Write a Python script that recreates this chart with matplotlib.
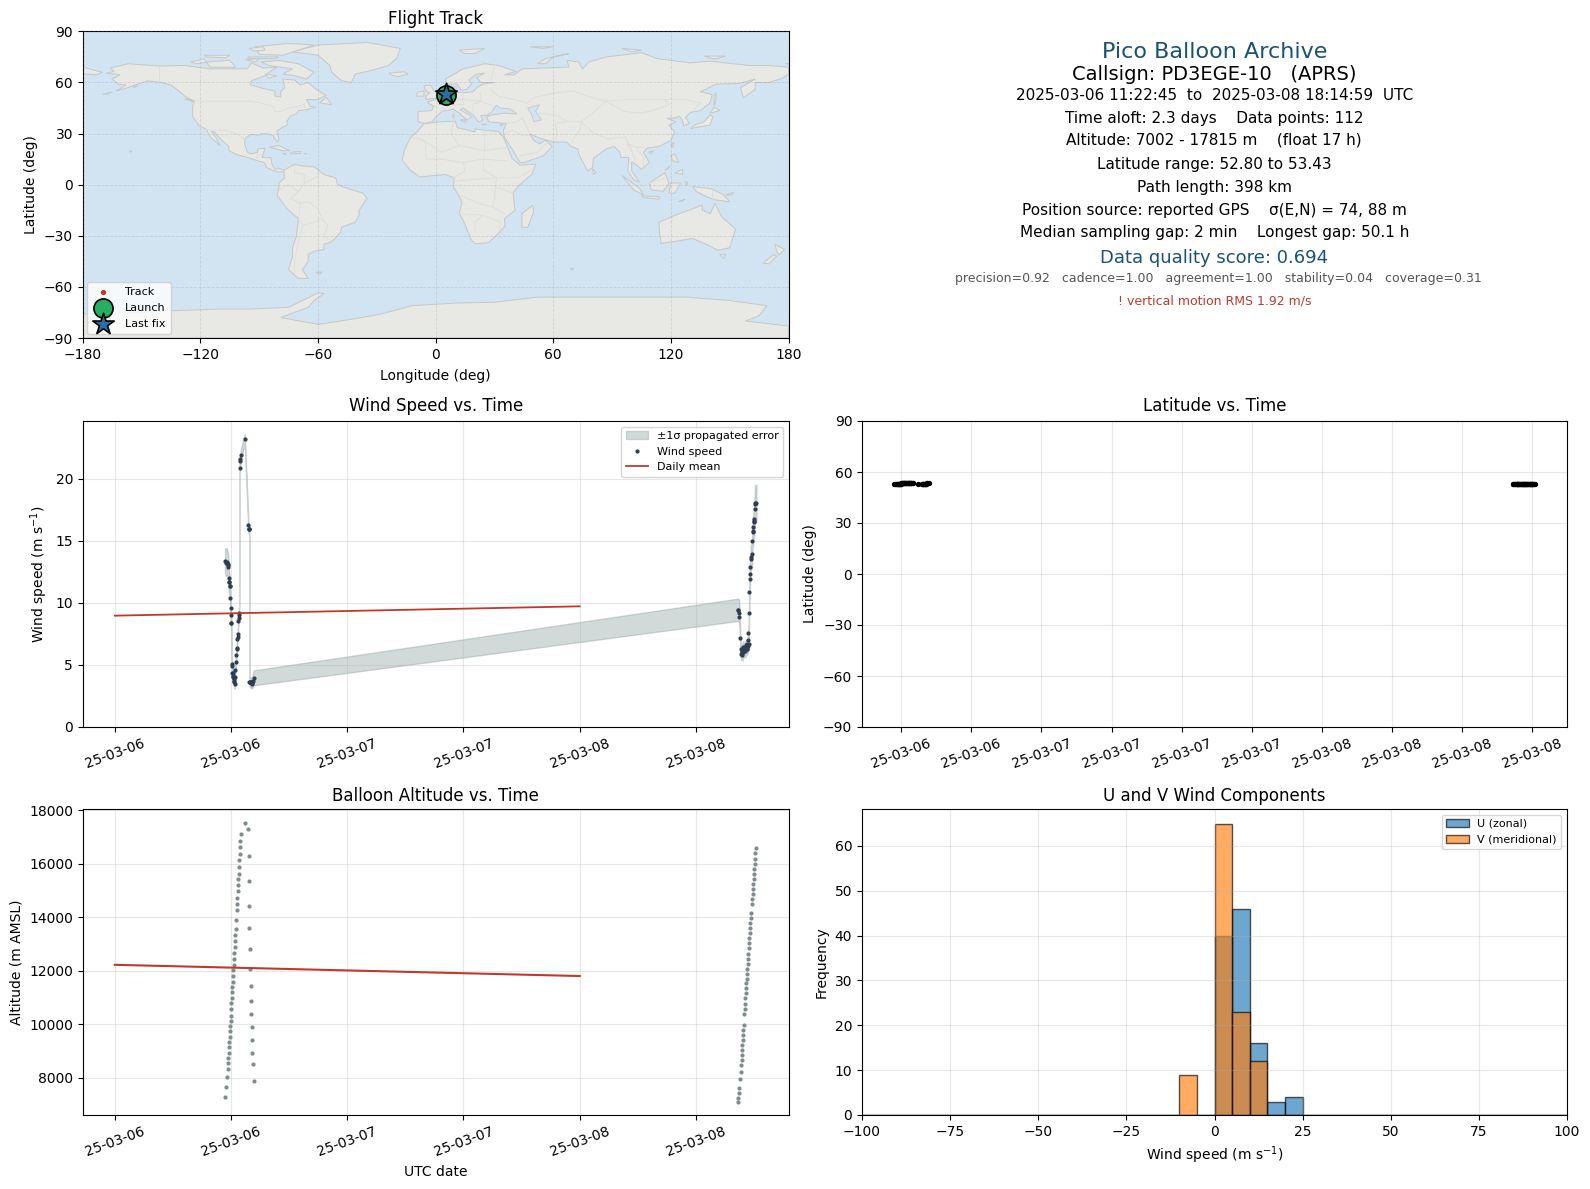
import matplotlib
matplotlib.use('Agg')
import matplotlib.pyplot as plt
import matplotlib.dates as mdates
from matplotlib.patches import Polygon
import numpy as np
import pandas as pd

# hours after 2025-03-06 12:00
hours = [-0.62, -0.55, -0.45, -0.36, -0.33, -0.30, -0.26, -0.23, -0.20, -0.16, -0.13, -0.10, -0.06, -0.03, 0.00,
         0.04, 0.07, 0.10, 0.14, 0.17, 0.20, 0.24, 0.27, 0.30, 0.34, 0.37, 0.40, 0.44, 0.47, 0.54, 0.57, 0.60,
         0.64, 0.67, 0.70, 0.74, 0.77, 0.80, 0.84, 0.87, 0.94, 0.97, 1.00, 1.41,
         1.78, 1.80, 1.83, 1.88, 1.90, 1.93, 1.99, 2.01, 2.04, 2.10, 2.12, 2.15, 2.21, 2.24, 2.33,
         52.34, 52.39, 52.47, 52.50, 52.58, 52.61, 52.68, 52.71, 52.74, 52.78, 52.81, 52.84, 52.88, 52.91, 52.94,
         52.99, 53.02, 53.09, 53.12, 53.15, 53.19, 53.22, 53.25, 53.29, 53.32, 53.35, 53.39, 53.42, 53.45, 53.49,
         53.52, 53.55, 53.59, 53.62, 53.65, 53.72, 53.80, 53.83, 53.86, 53.90, 53.93, 53.96, 54.00, 54.03, 54.09,
         54.12, 54.15, 54.25]

wind = [13.40, 13.24, 13.32, 13.16, 13.05, 12.91, 12.03, 11.71, 11.71, 11.36, 11.36, 10.37, 9.57, 9.01, 8.37,
        8.37, 5.08, 4.95, 4.36, 4.14, 4.36, 4.01, 3.88, 3.74, 3.61, 3.48, 4.01, 4.60, 5.21, 5.80, 6.28, 6.36,
        7.09, 7.27, 7.49, 8.56, 8.82, 9.01, 9.22, 20.86, 21.39, 21.60, 21.93, 23.21,
        16.28, 15.99, 15.99, 15.95, 3.61, 3.61, 3.61, 3.61, 3.53, 3.61, 3.48, 3.53, 3.61, 3.69, 3.96,
        9.44, 9.44, 9.22, 8.90, 7.18, 6.30, 5.90, 5.95, 6.03, 6.17, 5.84, 6.30, 6.43, 6.03, 6.22,
        6.30, 6.17, 6.43, 6.11, 6.49, 6.43, 6.57, 6.30, 6.30, 6.65, 6.49, 7.02, 7.59, 6.70, 9.20,
        10.88, 11.93, 12.33, 12.87, 13.54, 13.73, 13.94, 14.99, 15.68, 15.76, 16.09, 16.49, 16.62, 16.76, 17.56,
        18.02, 17.96, 18.02]

wind_err = [1.0, 1.1, 1.1, 1.0, 1.0, 1.0, 0.9, 0.9, 0.9, 0.8, 0.8, 0.8, 0.7, 0.7, 0.6,
            0.6, 0.5, 0.5, 0.5, 0.5, 0.5, 0.5, 0.4, 0.4, 0.4, 0.4, 0.4, 0.5, 0.5, 0.5, 0.5, 0.5,
            0.5, 0.5, 0.5, 0.5, 0.5, 0.5, 0.5, 0.5, 0.4, 0.4, 0.4, 0.4,
            0.4, 0.4, 0.4, 0.4, 0.4, 0.4, 0.4, 0.4, 0.4, 0.4, 0.4, 0.4, 0.4, 0.5, 0.6,
            0.9, 0.9, 0.9, 0.9, 0.6, 0.5, 0.5, 0.5, 0.5, 0.5, 0.5, 0.5, 0.5, 0.5, 0.5,
            0.5, 0.5, 0.5, 0.5, 0.5, 0.5, 0.5, 0.5, 0.5, 0.5, 0.5, 0.5, 0.6, 0.5, 0.7,
            0.8, 0.9, 0.9, 1.0, 1.0, 1.0, 1.0, 1.1, 1.2, 1.2, 1.2, 1.3, 1.3, 1.3, 1.4,
            1.5, 1.5, 1.5]

altitude = [7290, 7651, 8025, 8324, 8549, 8736, 8923, 9148, 9335, 9523, 9747, 9934, 10122, 10309, 10571,
            10796, 10983, 11207, 11395, 11582, 11806, 12031, 12218, 12443, 12668, 12892, 13117, 13341, 13566, 13903, 14277, 14502,
            14727, 14989, 15213, 15438, 15625, 15887, 16149, 16374, 16636, 16861, 17123, 17535,
            17310, 16299, 15363, 14427, 13604, 12817, 12068, 11432, 10870, 10384, 9897, 9410, 8923, 8512, 7875,
            7090, 7252, 7439, 7626, 7963, 8224, 8486, 8673, 8860, 9047, 9235, 9422, 9609, 9796, 9983,
            10394, 10581, 10768, 10993, 11180, 11367, 11554, 11704, 11891, 12078, 12265, 12452, 12639, 12863, 13050,
            13237, 13424, 13612, 13799, 13986, 14173, 14509, 14696, 14883, 15070, 15257, 15444, 15631, 15818, 16006,
            16193, 16417, 16604]

latitude = [52.80, 52.85, 52.90, 52.95, 53.00, 53.02, 53.05, 53.08, 53.10, 53.12, 53.15, 53.18, 53.20, 53.22, 53.25,
            53.28, 53.30, 53.32, 53.34, 53.36, 53.38, 53.40, 53.41, 53.42, 53.43, 53.43, 53.42, 53.42, 53.41, 53.40, 53.40, 53.39,
            53.38, 53.38, 53.36, 53.35, 53.34, 53.33, 53.32, 53.30, 53.28, 53.26, 53.24, 53.10,
            52.95, 52.90, 52.85, 52.82, 52.85, 52.90, 52.95, 53.00, 53.05, 53.10, 53.15, 53.20, 53.25, 53.30, 53.35,
            53.05, 53.06, 53.06, 53.07, 53.07, 53.08, 53.08, 53.09, 53.09, 53.10, 53.10, 53.10, 53.11, 53.11, 53.12,
            53.12, 53.12, 53.13, 53.13, 53.13, 53.14, 53.14, 53.14, 53.15, 53.15, 53.15, 53.16, 53.16, 53.16, 53.17,
            53.17, 53.17, 53.18, 53.18, 53.18, 53.19, 53.19, 53.19, 53.20, 53.20, 53.20, 53.21, 53.21, 53.21, 53.22,
            53.22, 53.22, 53.23]

mean_hours = [-12, 36]
wind_mean = [8.97, 9.72]
alt_mean = [12220, 11800]

hist_edges = np.linspace(-100, 100, 41)
u_counts = [0] * 20 + [40, 46, 16, 3, 4] + [0] * 15
v_counts = [0] * 18 + [9, 0, 65, 23, 12] + [0] * 17

track_lon = [5.2, 5.3, 5.4, 5.5, 5.6]
track_lat = [52.8, 53.0, 53.2, 53.4, 53.2]
launch = (5.4, 52.95)
last_fix = (5.4, 53.2)

land = {
    'north_america': [(-168, 65.5), (-164, 66.5), (-166, 68.5), (-157, 71), (-141, 69.7), (-128, 70), (-115, 68), (-108, 68), (-96, 68), (-94, 71.5), (-88, 68.5), (-81, 69), (-85, 66), (-87, 64), (-94, 61), (-94.5, 58.7), (-88, 56.5), (-82, 55), (-82, 52), (-79, 51.5), (-79, 55), (-77, 57), (-78, 62), (-72, 61.5), (-69, 58.5), (-65, 60), (-61, 56), (-56, 52.5), (-60, 50), (-66, 50), (-65, 48.5), (-64, 46), (-61, 45.5), (-66, 44), (-70, 43.5), (-71, 41.5), (-74, 40.5), (-76, 37), (-75.5, 35), (-78, 33.8), (-81, 31.5), (-80, 27), (-80.5, 25.2), (-82, 27), (-83, 29), (-85, 29.7), (-89, 30), (-90, 29), (-94, 29.5), (-97, 27.5), (-97.5, 24), (-96, 19), (-94, 18.2), (-91, 18.7), (-90.5, 21), (-87, 21.5), (-88, 18), (-88.5, 16), (-84, 15.8), (-83.5, 12), (-82, 9), (-79.5, 9.5), (-77.3, 8.5), (-78, 7.5), (-80.5, 7.5), (-83, 8.3), (-86, 10), (-87.5, 13), (-92, 14.5), (-96, 16), (-101, 17.5), (-105.5, 20), (-105.5, 22.5), (-109, 26), (-113, 31), (-114.5, 31.5), (-112, 27.5), (-110, 23), (-112, 25), (-115, 28), (-117, 32.5), (-120.5, 34.5), (-124, 40), (-124, 46), (-123, 49), (-128, 52), (-131, 55), (-135, 58.5), (-140, 60), (-147, 61), (-152, 59), (-157, 57), (-163, 55), (-158, 58.5), (-162, 59), (-165, 62), (-161, 64.5)],
    'greenland': [(-73, 78), (-60, 82), (-35, 83.5), (-18, 80), (-20, 74), (-24, 70), (-33, 67), (-41, 65), (-43, 60), (-48, 61), (-53, 66), (-54, 70), (-60, 76)],
    'baffin': [(-80, 73), (-70, 71), (-62, 66), (-66, 62), (-72, 64), (-78, 65), (-73, 68), (-85, 70), (-89, 72)],
    'victoria': [(-117, 72), (-105, 73), (-102, 69), (-115, 69)],
    'ellesmere': [(-90, 76.5), (-78, 76), (-62, 82), (-75, 83), (-92, 81)],
    'banks': [(-125, 72), (-118, 74), (-117, 72), (-122, 71)],
    'devon': [(-96, 75), (-80, 75), (-82, 74), (-95, 74)],
    'melville': [(-118, 76), (-105, 76), (-107, 74.5), (-117, 75)],
    'axel_heiberg': [(-95, 80), (-88, 81), (-87, 79), (-93, 78.5)],
    'southampton': [(-87, 65), (-81, 64), (-85, 62.5)],
    'somerset': [(-97, 73.5), (-90, 74), (-92, 72)],
    'newfoundland': [(-59, 48), (-53, 47), (-56, 51.5)],
    'vancouver': [(-128, 50.5), (-125, 50), (-123.5, 48.5)],
    'kodiak': [(-154, 58), (-152, 58), (-154, 57)],
    'aleutian': [(-170, 53), (-165, 54.5), (-167, 53.3)],
    'hawaii': [(-156, 20), (-155, 19.5), (-155.7, 19)],
    'cuba': [(-85, 22), (-80, 23), (-74.5, 20), (-78, 20)],
    'hispaniola': [(-74, 19), (-69, 19.5), (-69, 18.3), (-74, 18)],
    'jamaica': [(-78, 18.4), (-76.3, 18.2), (-77, 17.8)],
    'puerto_rico': [(-67, 18.4), (-65.7, 18.3), (-66.5, 17.9)],
    'iceland': [(-24, 65.5), (-16, 66.3), (-14, 65), (-19, 63.5), (-22, 64)],
    'britain': [(-5, 50), (1.5, 51), (1.7, 52.8), (-1, 55), (-2, 57.5), (-3, 58.6), (-6, 58), (-5, 55), (-3, 54), (-5, 52)],
    'ireland': [(-10, 52), (-6, 52), (-6, 55), (-9, 54.5)],
    'south_america': [(-77.5, 8.5), (-72, 12), (-68, 11), (-62, 10.5), (-57, 6), (-51, 4), (-50, 0), (-44, -2.5), (-37, -5), (-35, -8), (-39, -15), (-39, -18), (-41, -22), (-48, -25), (-48.5, -28), (-53, -33.5), (-57, -35), (-57, -38), (-62, -39), (-65, -41), (-65, -45), (-68, -50), (-65, -55), (-70, -55), (-75, -50), (-73, -42), (-73, -37), (-71, -30), (-70, -20), (-76, -14), (-81, -6), (-80, -2), (-80, 1), (-77, 4)],
    'falklands': [(-61, -51.5), (-58, -51.3), (-59, -52.3)],
    'africa': [(-6, 35.8), (3, 37), (10, 37.3), (11, 33.5), (20, 31), (20, 32.8), (25, 32), (32, 31.2), (34.5, 28), (37, 21), (39, 15.5), (43, 11.5), (51, 12), (49, 6), (42, -1), (39.5, -5), (40.5, -15), (35, -20), (35.5, -24), (32.5, -28), (27, -34), (20, -34.8), (18, -32), (14.5, -22), (12, -17), (13.5, -10), (9, -1), (9.5, 4), (5, 6), (-4, 5), (-8, 4.5), (-13, 8.5), (-17, 14.5), (-16, 20), (-13, 27.5), (-9.5, 31)],
    'eurasia': [(-9, 37), (-9, 43), (-2, 43.5), (-1, 46), (-4.5, 48.5), (1.5, 50.5), (5, 53), (8, 54), (8, 57), (10.5, 57.5), (10, 54.5), (14, 54), (19, 54.5), (21, 57), (24, 59), (30, 60), (23, 60), (21, 63), (25, 65.5), (21, 65), (17, 61.5), (18.5, 59.5), (16, 56), (13, 55.5), (11, 59), (5.5, 59), (5, 62), (14, 68), (25, 71), (32, 70), (41, 66.5), (35, 64.5), (40, 64.5), (44, 68), (54, 68.5), (68, 69), (67, 73), (73, 72), (75, 68), (78, 72), (87, 75), (105, 77.5), (113, 74), (130, 71.5), (140, 72.5), (160, 70), (170, 70), (180, 69), (180, 65), (177, 62.5), (170, 60), (163, 60), (163, 56), (157, 51), (155.5, 57), (163, 62), (155, 59.5), (143, 59), (135, 54.5), (141, 53), (140, 48), (135, 43.5), (130, 42.5), (127.5, 39.5), (129.5, 36), (126.5, 34.5), (126, 37.5), (124.5, 40), (121, 39), (118, 39), (122.5, 37), (119, 35), (122, 31), (120, 26), (114, 22.5), (108, 21.5), (106, 19), (109, 13), (105, 9), (103, 11), (100, 13.5), (100, 8), (104, 1.5), (101, 3), (98, 8), (98.5, 16), (94.5, 16), (94, 19), (91, 22.5), (87, 21), (80.5, 15.5), (80, 10), (77.5, 8), (73, 18), (72.5, 21), (69, 22.5), (67, 25), (61, 25), (57, 26), (51.5, 28), (48, 30), (50, 26), (53, 24), (56, 26), (59.5, 22.5), (55, 17), (45, 13), (43, 13), (39, 21), (35, 28), (34.5, 31.5), (36, 36), (30, 36.5), (27, 37), (26, 40), (29, 41), (35, 42), (41.5, 41.5), (38, 44.5), (33, 45), (31, 46.5), (28, 42), (26, 40.8), (23, 40.5), (24, 37.8), (22, 36.7), (19, 41), (14, 45), (12.5, 44), (18.5, 40), (16, 38), (12, 42), (9, 44.3), (3, 43), (0, 39.5), (-2, 36.8), (-5.5, 36)],
    'chukotka_west': [(-180, 65), (-173, 64.5), (-170, 66), (-180, 69)],
    'australia': [(114, -22), (122, -18), (129, -15), (136, -12), (136, -15), (140, -17), (142.5, -11), (146, -19), (153, -26), (150, -37), (144, -38.5), (138, -35), (131, -31.5), (124, -33), (115, -34.5), (114, -26)],
    'tasmania': [(145, -41), (148, -41), (147, -43.5)],
    'nz_north': [(173, -35), (178, -38), (175, -41.5), (174, -39)],
    'nz_south': [(172.5, -41), (174, -42), (170, -46.5), (167, -46)],
    'madagascar': [(49.5, -12), (50, -16), (47, -25), (44, -25), (44, -17)],
    'kerguelen': [(68.5, -49), (70.5, -49), (69.5, -50)],
    'honshu': [(130, 33), (135, 34), (140, 35), (141.5, 40), (140, 41), (137, 37), (132, 35)],
    'hokkaido': [(140, 42), (145, 43.5), (142, 45.5)],
    'sakhalin': [(142, 46), (143, 50), (143, 54), (142, 52)],
    'taiwan': [(120, 23), (121.5, 25), (121, 22)],
    'hainan': [(108.7, 19), (111, 20), (110, 18.2)],
    'luzon': [(120, 17), (122, 18), (124, 13), (121, 14)],
    'mindanao': [(122, 7), (126, 9), (126, 6)],
    'palawan': [(117, 8.5), (119.5, 11), (118, 9)],
    'borneo': [(109, 1), (117, 7), (119, 1), (116, -4), (110, -3)],
    'sumatra': [(95, 5.5), (104, -2), (106, -6), (101, -3)],
    'java': [(105, -6.5), (114, -7), (114, -8.5), (106, -7.5)],
    'timor': [(124, -10), (127, -8.5), (126, -9.5)],
    'sulawesi': [(119, -5), (120, 1), (125, 1), (122, -5)],
    'halmahera': [(127.5, 2), (128.7, 1), (128, -0.5)],
    'new_guinea': [(131, -1), (141, -2.5), (147, -6), (150, -10), (143, -9), (138, -7), (133, -4)],
    'new_britain': [(148, -6), (152, -4.5), (151, -6)],
    'sri_lanka': [(80, 9.5), (82, 7), (80.5, 6)],
    'novaya_zemlya': [(52, 71), (56, 74), (68, 77), (60, 75), (56, 71)],
    'svalbard': [(12, 79), (25, 80), (20, 77), (15, 77)],
    'franz_josef': [(48, 81), (60, 81), (55, 80)],
    'new_siberian': [(137, 75.5), (148, 75.5), (142, 73.8)],
    'wrangel': [(178, 71.3), (180, 71.3), (180, 70.8)],
    'severnaya': [(95, 80), (105, 79), (100, 78)],
    'sardinia': [(8.3, 41), (9.7, 41), (9.2, 39)],
    'sicily': [(12.5, 38), (15.5, 38.2), (15, 36.8)],
    'crete': [(23.5, 35.5), (26.2, 35.3), (24.5, 35)],
    'cyprus': [(32.5, 35), (34.5, 35.6), (33.5, 34.6)],
    'antarctica': [(-180, -90), (-180, -76), (-150, -75), (-135, -74), (-110, -73), (-95, -73), (-75, -72), (-68, -68), (-60, -63.5), (-57, -64), (-62, -68), (-65, -72), (-79, -78), (-60, -82), (-43, -79), (-28, -76), (-12, -71), (10, -69.5), (30, -69), (52, -66), (90, -66), (128, -66), (150, -68), (169, -71), (165, -77), (158, -80), (180, -83), (180, -90)],
}
caspian = [(47, 45), (53, 47), (51, 43), (54, 38), (50, 37), (49, 41)]

borders = [
    [(-123, 49), (-95, 49), (-89, 48), (-83, 46), (-82, 43), (-79, 43), (-75, 45), (-70, 46), (-67, 47.5), (-67, 45)],
    [(-141, 69.7), (-141, 60)],
    [(-117, 32.5), (-106, 31.7), (-101, 29.5), (-97, 26)],
    [(-92, 14.5), (-91, 17), (-89, 18)],
    [(-72, 12), (-72, 7), (-67, 6), (-67, 1), (-70, -4), (-74, -8), (-69, -11), (-65, -10), (-60, -14), (-58, -20), (-55, -24), (-57, -30), (-53, -33.5)],
    [(-67, 1), (-60, 5), (-60, 8)],
    [(-80, -3), (-75, 0), (-70, -4)],
    [(-69, -11), (-70, -20), (-68, -24), (-70, -33), (-72, -45), (-72, -52)],
    [(-68, -24), (-62, -22), (-58, -20)],
    [(-13, 27.5), (-8, 27), (-5, 25), (3, 19), (12, 23), (25, 20), (37, 22)],
    [(-5, 25), (-5, 15), (3, 15), (14, 13), (24, 15), (36, 14)],
    [(25, 32), (25, 20), (24, 9), (31, 4), (42, 4), (48, 8)],
    [(9, 37), (8, 30), (12, 23)],
    [(14, 13), (15, 8), (9, 4)],
    [(9, 2), (18, 3), (31, 4), (30, -8), (29, -13), (35, -17)],
    [(12, -6), (22, -11), (29, -13)],
    [(12, -17), (24, -18), (33, -22), (32.5, -27)],
    [(20, -28), (20, -22), (24, -18)],
    [(30, -1), (39.5, -5)],
    [(6, 51), (14, 50), (23, 49), (30, 46), (28, 42)],
    [(14, 54), (14, 47), (7, 47), (3, 43)],
    [(23, 54), (23, 49), (19, 47), (19, 41)],
    [(28, 60), (30, 69)],
    [(28, 56), (32, 52), (40, 50), (47, 48), (50, 51), (61, 54), (70, 55), (80, 51), (87, 49), (98, 50), (107, 50), (117, 50), (127, 50), (135, 48), (131, 43)],
    [(87, 49), (96, 43), (105, 42), (112, 44), (119, 47), (117, 50)],
    [(53, 42), (61, 41), (67, 37), (74, 37), (80, 42), (87, 49)],
    [(74, 37), (78, 33), (81, 30), (88, 27), (97, 28), (98, 24), (102, 22), (106, 22)],
    [(61, 25), (62, 30), (61, 36), (67, 37)],
    [(69, 24), (71, 28), (74, 33), (74, 37)],
    [(44, 40), (46, 35), (48, 30)],
    [(36, 36), (42, 37), (44, 39)],
    [(35, 30), (39, 32), (44, 29), (48, 29)],
    [(43, 17), (52, 19), (56, 24)],
    [(98, 24), (100, 20), (102, 14)],
    [(102, 22), (106, 16), (106, 11)],
    [(141, -2.5), (141, -9)],
    [(109, 1), (117, 4)],
]

title_col = '#1a5276'
wind_col = '#2c3e50'
band_col = '#95a5a6'
alt_col = '#7f8c8d'
red = '#c0392b'
land_col = '#e8e8e4'
ocean_col = '#d2e4f1'
coast_col = '#c4c8c8'

FIG_W, FIG_H = 1590, 1189


def px_axes(fig, x0, x1, y0, y1):
    return fig.add_axes([x0 / FIG_W, 1 - y1 / FIG_H, (x1 - x0) / FIG_W, (y1 - y0) / FIG_H])


fig = plt.figure(figsize=(15.9, 11.89), dpi=100)

times = pd.Timestamp('2025-03-06 12:00') + pd.to_timedelta(hours, unit='h')
mean_times = pd.Timestamp('2025-03-06 12:00') + pd.to_timedelta(mean_hours, unit='h')
wind = np.array(wind)
wind_err = np.array(wind_err)

date_fmt = mdates.DateFormatter('%y-%m-%d')


def time_axis(ax, byhour):
    ax.xaxis.set_major_locator(mdates.HourLocator(byhour=byhour))
    ax.xaxis.set_major_formatter(date_fmt)
    ax.tick_params(axis='x', rotation=20)


# flight track
ax = px_axes(fig, 82.8, 788.5, 31.4, 338)
ax.set_facecolor(ocean_col)
for name, pts in land.items():
    ax.add_patch(Polygon(pts, closed=True, fc=land_col, ec=coast_col, lw=0.7, zorder=1))
ax.add_patch(Polygon(caspian, closed=True, fc=ocean_col, ec=coast_col, lw=0.6, zorder=1))
for line in borders:
    bx, by = zip(*line)
    ax.plot(bx, by, color='#dcdcd8', lw=0.6, zorder=1.5)
ax.grid(True, color='gray', alpha=0.22, lw=0.6, ls='--', zorder=2)
ax.set_axisbelow(False)
ax.scatter(track_lon, track_lat, s=8, color=red, zorder=3, label='Track')
ax.scatter(*launch, s=190, color='#27ae60', edgecolors='black', lw=1.2, zorder=4, label='Launch')
ax.scatter(*last_fix, s=260, marker='*', color='#2471a3', edgecolors='black', lw=1.2, zorder=5, label='Last fix')
ax.set_xlim(-180, 180)
ax.set_ylim(-90, 90)
ax.set_xticks(range(-180, 181, 60))
ax.set_yticks(range(-90, 91, 30))
ax.set_xlabel('Longitude (deg)', labelpad=5.5)
ax.set_ylabel('Latitude (deg)')
ax.set_title('Flight Track', fontsize=12, pad=5)
ax.legend(loc='lower left', fontsize=8, framealpha=0.8, labelspacing=0.55, borderpad=0.45,
          handletextpad=1.0, borderaxespad=0.35)

# summary text
cx = 1214.5 / FIG_W
summary = [
    (52, 'Pico Balloon Archive', 16, title_col, 0),
    (74, 'Callsign: PD3EGE-10   (APRS)', 14, 'black', 0),
    (95, '2025-03-06 11:22:45  to  2025-03-08 18:14:59  UTC', 11, 'black', 0),
    (118, 'Time aloft: 2.3 days    Data points: 112', 11, 'black', 0),
    (140, 'Altitude: 7002 - 17815 m    (float 17 h)', 11, 'black', -1),
    (164, 'Latitude range: 52.80 to 53.43', 11, 'black', 0),
    (187.5, 'Path length: 398 km', 11, 'black', 0),
    (210, 'Position source: reported GPS    σ(E,N) = 74, 88 m', 11, 'black', 0),
    (233, 'Median sampling gap: 2 min    Longest gap: 50.1 h', 11, 'black', 0),
    (258, 'Data quality score: 0.694', 13, title_col, 0),
    (279, 'precision=0.92   cadence=1.00   agreement=1.00   stability=0.04   coverage=0.31', 9, '#555555', 4),
    (301, '! vertical motion RMS 1.92 m/s', 9, red, 0),
]
for y, txt, size, col, dx in summary:
    fig.text(cx + dx / FIG_W, 1 - y / FIG_H, txt, fontsize=size, color=col, ha='center', va='center')

# wind speed
ax = px_axes(fig, 82.8, 788.5, 421, 727)
ax.fill_between(times, wind - wind_err, wind + wind_err, color=band_col, alpha=0.42, label='±1σ propagated error')
ax.plot(times, wind, 'o', ms=2, color=wind_col, label='Wind speed')
ax.plot(mean_times, wind_mean, '-', color=red, lw=1.3, label='Daily mean')
ax.set_ylim(0, 24.65)
ax.set_ylabel('Wind speed (m s$^{-1}$)')
ax.set_title('Wind Speed vs. Time', fontsize=12, pad=7)
ax.grid(True, alpha=0.3)
time_axis(ax, [0, 12])
ax.legend(loc='upper right', fontsize=8)

# latitude
ax = px_axes(fig, 862, 1567, 421, 727)
ax.plot(times, latitude, 'o', ms=2.8, color='black')
ax.set_ylim(-90, 90)
ax.set_yticks(range(-90, 91, 30))
ax.set_ylabel('Latitude (deg)')
ax.set_title('Latitude vs. Time', fontsize=12, pad=7)
ax.grid(True, alpha=0.3)
time_axis(ax, [0, 6, 12, 18])

# altitude
ax = px_axes(fig, 82.8, 788.5, 809, 1115)
ax.plot(times, altitude, 'o', ms=2, color=alt_col)
ax.plot(mean_times, alt_mean, '-', color=red, lw=1.5)
ax.set_ylim(6600, 18050)
ax.set_xlabel('UTC date')
ax.set_ylabel('Altitude (m AMSL)')
ax.set_title('Balloon Altitude vs. Time', fontsize=12)
ax.grid(True, alpha=0.3)
time_axis(ax, [0, 12])

# wind components
ax = px_axes(fig, 862, 1567, 809, 1115)
ax.hist(hist_edges[:-1], bins=hist_edges, weights=u_counts, alpha=0.65, color='tab:blue', edgecolor='black', label='U (zonal)')
ax.hist(hist_edges[:-1], bins=hist_edges, weights=v_counts, alpha=0.65, color='tab:orange', edgecolor='black', label='V (meridional)')
ax.set_xlim(-100, 100)
ax.set_xlabel('Wind speed (m s$^{-1}$)')
ax.set_ylabel('Frequency')
ax.set_title('U and V Wind Components', fontsize=12)
ax.grid(True, alpha=0.3)
ax.legend(loc='upper right', fontsize=8)

fig.savefig('out.png', dpi=100)
